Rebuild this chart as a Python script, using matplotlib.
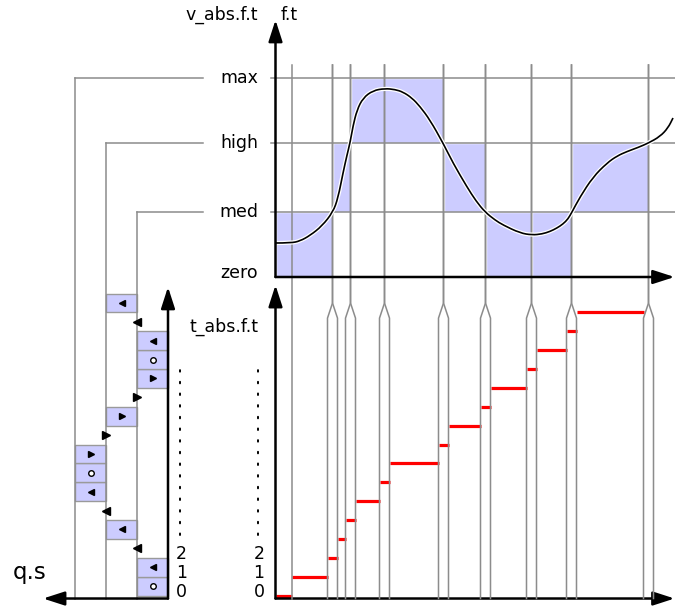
import matplotlib
matplotlib.use('Agg')
import matplotlib.pyplot as plt
from matplotlib.patches import Rectangle, PathPatch
from matplotlib.path import Path
import matplotlib.patheffects as pe

# --- data ---
level_names = ['zero', 'med', 'high', 'max']
level_v = [0, 65, 134, 199]

# sample times of the events (pixel-like time units from the origin)
event_t = [16, 57, 75, 109, 168, 210, 256, 296, 373]
event_fork = [False, True, True, True, True, True, True, True, True]

# the function f.t (v_abs)
curve_t = [0, 15.5, 24.5, 34.5, 46.5, 57.5, 62.5, 67.5, 71.5, 74.5, 77.5, 81.5, 87.5,
           97.5, 109.5, 119.5, 127.5, 136.5, 144.5, 154.5, 167.5, 177.5, 191.5, 200.5,
           209.5, 219.5, 227.5, 244.5, 256.5, 266.5, 274.5, 281.5, 287.5, 292.5, 296.5,
           304.5, 317.5, 331.5, 341.5, 351.5, 362.5, 373, 384.5, 392.5, 397.5]
curve_v = [34, 34, 36, 41.5, 51, 65, 79, 104, 122, 134, 151, 167, 179,
           186.5, 188.5, 187.5, 185, 179, 170.5, 157, 134, 114, 90, 76,
           65, 57, 52, 44, 42, 43, 45.5, 49, 53, 58, 65,
           80, 100, 114, 121, 125.5, 129.5, 134, 140.5, 149, 159]

# shaded cells in the top panel: time span and level index of the lower edge
cell_t0 = [0, 57, 75, 168, 210, 256, 296]
cell_t1 = [57, 75, 168, 210, 256, 296, 373]
cell_lo = [0, 1, 2, 1, 0, 0, 1]

# qualitative state per step: q.s position (x.5 = interval, integer = landmark) and direction
q_s = [0.5, 0.5, 1, 1.5, 2, 2.5, 2.5, 2.5, 2, 1.5, 1, 0.5, 0.5, 0.5, 1, 1.5]
q_dir = ['std', 'inc', 'inc', 'inc', 'inc', 'inc', 'std', 'dec',
         'dec', 'dec', 'dec', 'dec', 'std', 'inc', 'inc', 'inc']

fork_half = 5
fork_top, fork_bot = 15.5, 14.7
grid_top = 212

GRAY = '#8c8c8c'
BLUE = '#ccccff'
FS = 12.5

fig = plt.figure(figsize=(6.75, 6.07), dpi=100)
W, H = 675, 607

# three overlaid axes sharing the figure, each with its own units
ax_bot = fig.add_axes([0, 0, 1, 1])
ax_left = fig.add_axes([0, 0, 1, 1])
ax_top = fig.add_axes([0, 0, 1, 1])
x0_px, v0_px, k0_px, kstep, q0_px, qstep = 275.5, 277, 595.5, 18.87, 168, 31
ax_top.set_xlim(-x0_px, W - x0_px)
ax_top.set_ylim(v0_px - H, v0_px)
ax_bot.set_xlim(-x0_px, W - x0_px)
ax_bot.set_ylim((k0_px - H) / kstep, k0_px / kstep)
ax_left.set_xlim(q0_px / qstep, (q0_px - W) / qstep)
ax_left.set_ylim((k0_px - H) / kstep, k0_px / kstep)
for ax in (ax_bot, ax_left, ax_top):
    ax.set_axis_off()
    ax.patch.set_alpha(0)


def conv(a_from, a_to, x, y):
    return a_to.transData.inverted().transform(a_from.transData.transform((x, y)))


def k_to_v(k):
    return conv(ax_bot, ax_top, 0, k)[1]


def v_to_k(v):
    return conv(ax_top, ax_bot, 0, v)[1]


def q_to_t(q):
    return conv(ax_left, ax_top, q, 0)[0]


def arrow(ax, xa, ya, xb, yb):
    ax.annotate('', xy=(xb, yb), xytext=(xa, ya),
                arrowprops=dict(arrowstyle='-|>,head_length=1.3,head_width=0.42',
                                mutation_scale=10, lw=1.8, color='black',
                                shrinkA=0, shrinkB=0),
                annotation_clip=False, zorder=6)


k_axis = -0.16
v_bottom = k_to_v(k_axis)

# ---- top panel ----
for t0, t1, lo in zip(cell_t0, cell_t1, cell_lo):
    ax_top.add_patch(Rectangle((t0, level_v[lo]), t1 - t0, level_v[lo + 1] - level_v[lo],
                               fc=BLUE, ec='white', lw=1, zorder=1))

for i in range(1, 4):
    ax_top.plot([-5, 400], [level_v[i], level_v[i]], color=GRAY, lw=1.1, zorder=2)
    ax_top.plot([q_to_t(i), -72.5], [level_v[i], level_v[i]], color=GRAY, lw=1.1, zorder=2)
    ax_left.plot([i, i], [k_axis, v_to_k(level_v[i])], color=GRAY, lw=1.1, zorder=2)

for t, fork in zip(event_t, event_fork):
    if fork:
        for side in (-1, 1):
            ax_top.plot([t, t, t + side * fork_half, t + side * fork_half],
                        [grid_top, k_to_v(fork_top), k_to_v(fork_bot), v_bottom],
                        color=GRAY, lw=1.1, zorder=2)
    else:
        ax_top.plot([t, t], [grid_top, v_bottom], color=GRAY, lw=1.1, zorder=2)

# smooth curve: quadratic spline path through the read points
pts = list(zip(curve_t, curve_v))
verts, codes = [pts[0]], [Path.MOVETO]
for i in range(1, len(pts) - 1):
    mid = ((pts[i][0] + pts[i + 1][0]) / 2, (pts[i][1] + pts[i + 1][1]) / 2)
    verts += [pts[i], mid]
    codes += [Path.CURVE3, Path.CURVE3]
verts.append(pts[-1])
codes.append(Path.LINETO)
ax_top.add_patch(PathPatch(Path(verts, codes), fill=False, ec='black', lw=1.2, zorder=4,
                           path_effects=[pe.Stroke(linewidth=3, foreground='white'),
                                         pe.Normal()]))

arrow(ax_top, 0, 0, 0, 257)
arrow(ax_top, 0, 0, 399, 0)
for name, v in zip(level_names, level_v):
    ax_top.text(-17.5, v + (4 if v == 0 else 0), name, ha='right', va='center', fontsize=FS)
ax_top.text(-17.5, 262, 'v_abs.f.t', ha='right', va='center', fontsize=FS)
ax_top.text(5, 262, 'f.t', ha='left', va='center', fontsize=FS)

# ---- bottom right panel: step counter ----
bounds = [0]
for t, fork in zip(event_t, event_fork):
    bounds += [t - fork_half, t + fork_half] if fork else [t]
for k in range(len(q_s)):
    ax_bot.plot([bounds[k], bounds[k + 1]], [k, k], color='red', lw=2.3,
                solid_capstyle='butt', zorder=3)
arrow(ax_bot, 0, k_axis, 0, 16.45)
arrow(ax_bot, 0, k_axis, 399, k_axis)
ax_bot.text(-17.5, 14.22, 't_abs.f.t', ha='right', va='center', fontsize=FS)
for k in range(3):
    ax_bot.text(-16.5, k + 0.2, str(k), ha='center', va='center', fontsize=FS)
ax_bot.plot([-17.5, -17.5], [3.2, 11.95], color='black', lw=1.4,
            linestyle=(0, (0.8, 5.2)), dash_capstyle='round')

# ---- bottom left panel: qualitative state ----
for k, (q, d) in enumerate(zip(q_s, q_dir)):
    mk = {'inc': '<', 'dec': '>', 'std': 'o'}[d]
    if q % 1:
        lo = int(q)
        ax_left.add_patch(Rectangle((lo, k), 1, 1, fc=BLUE, ec='#9a9a9a', lw=1, zorder=1))
        if mk == 'o':
            ax_left.plot(q, k + 0.5, 'o', mfc='white', mec='black', ms=4, mew=1, zorder=4)
        else:
            ax_left.plot(q, k + 0.5, mk, color='black', ms=5, zorder=4)
    else:
        ax_left.plot(q, k + 0.5, mk, color='black', ms=5.5, zorder=4)

arrow(ax_left, 0, k_axis, 0, 16.35)
arrow(ax_left, 0, k_axis, 4.03, k_axis)
ax_left.text(4.45, 1.2, 'q.s', ha='center', va='center', fontsize=16.5)
for k in range(3):
    ax_left.text(-0.26, k + 0.2, str(k), ha='left', va='center', fontsize=FS)
ax_left.plot([-0.39, -0.39], [3.2, 11.95], color='black', lw=1.4,
             linestyle=(0, (0.8, 5.2)), dash_capstyle='round')

fig.savefig('out.png', dpi=100, facecolor='white')
